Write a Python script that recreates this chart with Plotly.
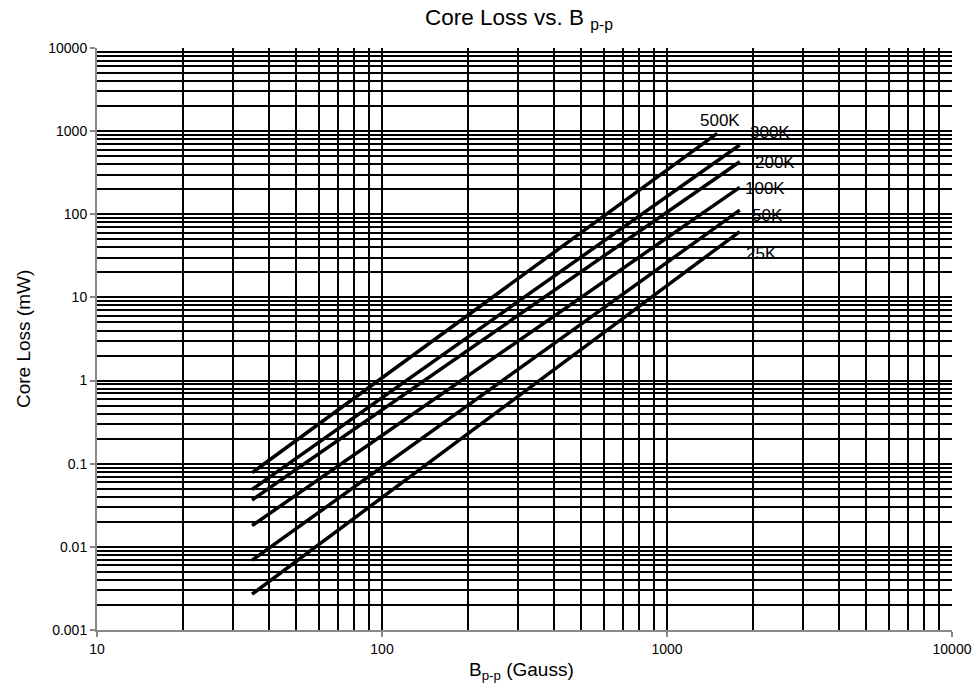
import math
import plotly.graph_objects as go

series_names = ["500K", "300K", "200K", "100K", "50K", "25K"]
x_start = [35, 35, 35, 35, 35, 35]
x_end = [1500, 1800, 1800, 1800, 1800, 1800]
y_start = [0.078, 0.049, 0.0366, 0.018, 0.0069, 0.0027]
y_end = [942, 681, 429, 211, 112, 62]

label_x = [1535, 2296, 2393, 2208, 2244, 2153]
label_y = [1361, 951, 414, 207, 98, 34]

x_ticks = [10, 100, 1000, 10000]
y_ticks = [0.001, 0.01, 0.1, 1, 10, 100, 1000, 10000]

FONT = "Liberation Sans, Arial, sans-serif"

fig = go.Figure()
for name, xs, xe, ys, ye in zip(series_names, x_start, x_end, y_start, y_end):
    fig.add_trace(go.Scatter(x=[xs, xe], y=[ys, ye], mode="lines", name=name,
                             line=dict(color="black", width=3.5), showlegend=False))

for name, lx, ly in zip(series_names, label_x, label_y):
    fig.add_annotation(x=math.log10(lx), y=math.log10(ly), xref="x", yref="y", text=name,
                       showarrow=False, font=dict(family=FONT, size=17, color="black"))

# axis titles
fig.add_annotation(x=0.497, y=0, xref="paper", yref="paper", yshift=-41,
                   text="B<sub>p-p</sub> (Gauss)", showarrow=False,
                   xanchor="center", yanchor="middle",
                   font=dict(family=FONT, size=19, color="black"))
fig.add_annotation(x=0, y=0.5, xref="paper", yref="paper", xshift=-74,
                   text="Core Loss (mW)", showarrow=False, textangle=-90,
                   xanchor="center", yanchor="middle",
                   font=dict(family=FONT, size=19, color="black"))

fig.update_layout(
    width=976, height=691,
    margin=dict(l=97, r=24, t=48, b=61),
    paper_bgcolor="white", plot_bgcolor="white",
    font=dict(family=FONT, size=14, color="black"),
    title=dict(text="Core Loss vs. B <sub>p-p</sub>", x=519 / 976, xanchor="center",
               xref="container", y=1 - 17 / 691, yanchor="middle", yref="container",
               font=dict(family=FONT, size=22.5, color="black")),
)
fig.update_xaxes(type="log", range=[1, 4], tickvals=x_ticks, ticktext=[str(v) for v in x_ticks],
                 tickfont=dict(family=FONT, size=14, color="black"),
                 showgrid=True, gridcolor="black", gridwidth=2,
                 minor=dict(showgrid=True, gridcolor="black", gridwidth=2, dtick="D1"),
                 showline=True, linecolor="#888888", linewidth=2, ticks="outside",
                 tickcolor="#888888", ticklen=5, tickwidth=2, automargin=False,
                 zeroline=False)
fig.update_yaxes(type="log", range=[-3, 4], tickvals=y_ticks, ticktext=[f"{v:g}" for v in y_ticks],
                 tickfont=dict(family=FONT, size=14, color="black"),
                 showgrid=True, gridcolor="black", gridwidth=2,
                 minor=dict(showgrid=True, gridcolor="black", gridwidth=2, dtick="D1"),
                 showline=True, linecolor="#888888", linewidth=2, ticks="outside",
                 tickcolor="#888888", ticklen=5, tickwidth=2, automargin=False,
                 zeroline=False)
fig.write_html("out.html", config={"displayModeBar": False},
               post_script="document.body.style.margin='0';")
